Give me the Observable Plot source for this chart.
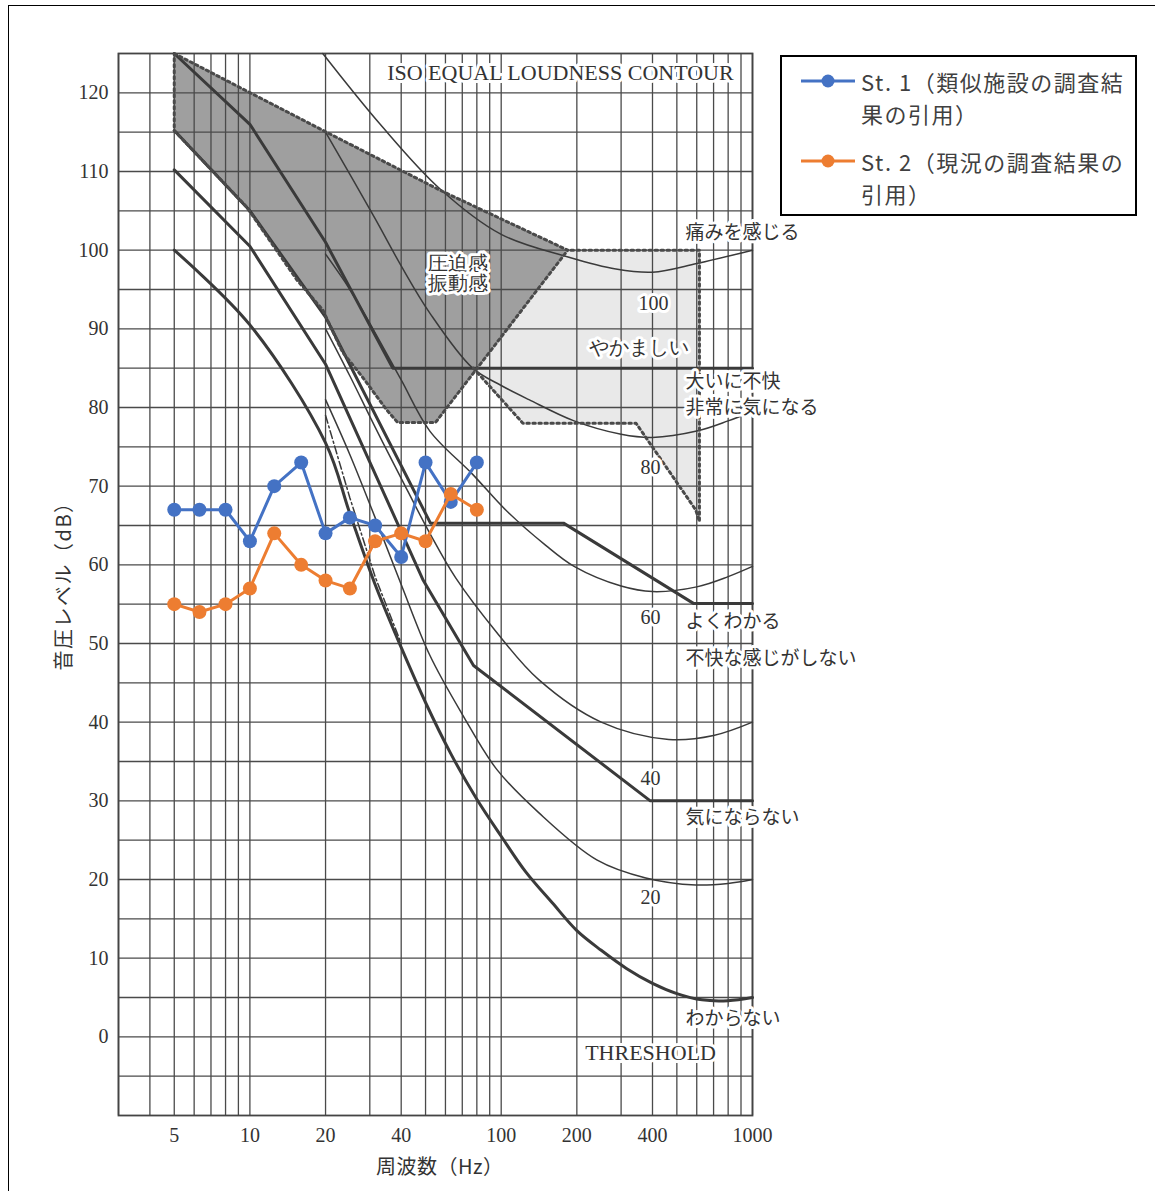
<!DOCTYPE html>
<html><head><meta charset="utf-8">
<script src="https://cdn.jsdelivr.net/npm/d3@7"></script>
<script src="https://cdn.jsdelivr.net/npm/@observablehq/plot@0.6"></script>
<style>
body{margin:0;background:#fff;}
#wrap{position:relative;width:1155px;height:1191px;overflow:hidden;background:#fff;}
#border{position:absolute;left:8px;top:5px;width:1300px;height:1300px;border:1.5px solid #000;}
#chart{position:absolute;left:0;top:0;}
#legend{position:absolute;left:780px;top:55px;width:353px;height:157px;border:2px solid #000;background:#fff;
 font-family:"Noto Sans CJK JP";font-size:22px;color:#404040;line-height:32px;}
.item{position:absolute;left:0;}
.item svg{position:absolute;left:18px;top:6px;}
.item .t{position:absolute;left:79px;top:0;white-space:nowrap;letter-spacing:1.5px;}
.axt{position:absolute;font-family:"Noto Sans CJK JP";font-size:20px;color:#333;white-space:nowrap;}
</style></head>
<body>
<div id="wrap">
 <div id="border"></div>
 <div id="chart"></div>
 <div id="legend">
  <div class="item" style="top:8px">
   <svg width="56" height="20"><line x1="1" y1="10" x2="55" y2="10" stroke="#4472C4" stroke-width="3"/><circle cx="28" cy="10" r="6.5" fill="#4472C4"/></svg>
   <div class="t">St. 1（類似施設の調査結<br>果の引用）</div>
  </div>
  <div class="item" style="top:88px">
   <svg width="56" height="20"><line x1="1" y1="10" x2="55" y2="10" stroke="#ED7D31" stroke-width="3"/><circle cx="28" cy="10" r="6.5" fill="#ED7D31"/></svg>
   <div class="t">St. 2（現況の調査結果の<br>引用）</div>
  </div>
 </div>
 <div class="axt" style="left:376px;top:1151px;letter-spacing:0.5px;">周波数（Hz）</div>
 <div class="axt" style="left:62px;top:581px;letter-spacing:1.5px;transform:translate(-50%,-50%) rotate(-90deg);">音圧レベル（dB）</div>
</div>
<script>
// measured series (1/3 octave bands)
const bands = [5, 6.3, 8, 10, 12.5, 16, 20, 25, 31.5, 40, 50, 63, 80];
const st1 = [67, 67, 67, 63, 70, 73, 64, 66, 65, 61, 73, 68, 73];
const st2 = [55, 54, 55, 57, 64, 60, 58, 57, 63, 64, 63, 69, 67];

// axes
const xTicks = [5, 10, 20, 40, 100, 200, 400, 1000];
const yTicks = [0, 10, 20, 30, 40, 50, 60, 70, 80, 90, 100, 110, 120];
const gridFreqs = [3,4,5,6,7,8,9,10,20,30,40,50,60,70,80,90,100,200,300,400,500,600,700,800,900,1000];
const gridLevels = [-5,0,5,10,15,20,25,30,35,40,45,50,55,60,65,70,75,80,85,90,95,100,105,110,115,120];

// regions [Hz, dB]
const darkRegion = [[5,125],[19.6,115.2],[57.3,107.6],[184,100],[54.8,78.1],[38.7,78.1],[35,79.7],[28,83.9],[23.4,87],[19.5,92.4],[15.4,96.2],[9.7,105.5],[5,115.2],[5,125]];
const lightRegion = [[184,100],[615,100],[615,65.5],[594,67],[344,78],[122,78],[77.5,85],[184,100]];
const lightOutline = [[77.5,85],[122,78],[344,78],[594,67],[615,65.5],[615,100],[184,100]];

// ISO equal loudness contours (thin)
const phon100 = [[19.5,125],[33,116],[57,107.8],[100,102],[186,99.1],[286,97.6],[400,97.2],[600,98.3],[1000,100]];
const phon80 = [[20,115],[31.5,104],[40,98],[52,92],[77,85],[100,82.8],[129,81],[195,78.3],[300,76.6],[400,76.2],[600,77],[800,78.3],[1000,79.5]];
const phon60 = [[20,99.5],[25,95],[31.5,89.5],[40,83.5],[52,77],[77,71.5],[104,67],[150,62.5],[195,59.8],[300,57.3],[400,56.6],[600,57.2],[800,58.5],[1000,59.8]];
const phon40 = [[20,90],[25,84],[31.5,77.5],[40,71],[52,64],[66,58.3],[96,51.4],[141,45.4],[250,40],[464,37.8],[700,38.3],[1000,40]];
const phon20 = [[20,81],[25,74],[31.5,66],[40,57.5],[52,48.5],[70,41],[96,34],[141,28.5],[240,22.5],[376,20.2],[594,19.3],[800,19.5],[1000,20]];
const dashLine = [[20,79],[25,68.5],[31.5,58.5],[40,50]];

// response lines (thick)
const threshold = [[5,100],[10,90.5],[20,75.5],[25,66.5],[31.5,57.5],[40,49.5],[50,42.5],[63,36],[80,30.2],[100,25.5],[125,21],[160,17],[200,13.5],[250,11],[315,8.7],[400,6.8],[500,5.5],[630,4.7],[800,4.6],[1000,5]];
const lineA = [[5,125],[10,116],[20,101],[37,85],[1000,85]];
const lineB = [[5,115.2],[10,105],[20,91.5],[52.3,65.3],[177,65.3],[582,55.1],[1000,55.1]];
const lineC = [[5,110.2],[10,100.5],[20,85.5],[49,58],[77.6,47.2],[392,30],[1000,30]];

// annotation texts [Hz, dB, text]
const titleLabel = [[172,122.5,"ISO EQUAL LOUDNESS CONTOUR"],[393,-2.1,"THRESHOLD"]];
const centerLabels = [[67.6,98.3,"圧迫感"],[67.6,95.8,"振動感"],
  [404,93.2,"100"],[355,87.6,"やかましい"],[393,72.4,"80"],[393,53.3,"60"],[393,32.8,"40"],[393,17.7,"20"]];
const sideLabels = [[541,102.2,"痛みを感じる"],[541,83.2,"大いに不快"],[541,79.9,"非常に気になる"],[541,52.8,"よくわかる"],
  [541,48.0,"不快な感じがしない"],[541,27.8,"気にならない"],[541,2.3,"わからない"]];

const pts = a => a.map(([f, v]) => ({f, v}));
const lab = a => a.map(([f, v, t]) => ({f, v, t}));
const s1 = bands.map((f, i) => ({f, v: st1[i]}));
const s2 = bands.map((f, i) => ({f, v: st2[i]}));
const ink = "#3a3a3a";
const serif = "Liberation Serif";
const jp = "Noto Sans CJK JP";
const isLatin = d => /^[0-9A-Z ]+$/.test(d.t);

const chart = Plot.plot({
  width: 1155, height: 1191,
  marginLeft: 118, marginRight: 403, marginTop: 53, marginBottom: 76,
  x: {type: "log", domain: [3, 1000], axis: null},
  y: {domain: [-10, 125]},
  style: {fontFamily: serif, fontSize: "20px", color: "#333", background: "transparent"},
  marks: [
    Plot.line(pts(lightRegion), {x: "f", y: "v", fill: "#e9e9e9", stroke: "none"}),
    Plot.line(pts(darkRegion), {x: "f", y: "v", fill: "#9f9f9f", stroke: "none"}),
    Plot.ruleX(gridFreqs, {stroke: "#4a4a4a", strokeWidth: 1.3}),
    Plot.ruleY(gridLevels, {stroke: "#4a4a4a", strokeWidth: 1.4}),
    Plot.frame({stroke: "#444", strokeWidth: 1.8}),
    Plot.line(pts(phon100), {x: "f", y: "v", stroke: ink, strokeWidth: 1.5, curve: "catmull-rom"}),
    Plot.line(pts(phon80), {x: "f", y: "v", stroke: ink, strokeWidth: 1.5, curve: "catmull-rom"}),
    Plot.line(pts(phon60), {x: "f", y: "v", stroke: ink, strokeWidth: 1.5, curve: "catmull-rom"}),
    Plot.line(pts(phon40), {x: "f", y: "v", stroke: ink, strokeWidth: 1.5, curve: "catmull-rom"}),
    Plot.line(pts(phon20), {x: "f", y: "v", stroke: ink, strokeWidth: 1.5, curve: "catmull-rom"}),
    Plot.line(pts(dashLine), {x: "f", y: "v", stroke: ink, strokeWidth: 1.5, strokeDasharray: "8,3,2,3"}),
    Plot.line(pts(threshold), {x: "f", y: "v", stroke: ink, strokeWidth: 3, curve: "catmull-rom"}),
    Plot.line(pts(lineA), {x: "f", y: "v", stroke: ink, strokeWidth: 3}),
    Plot.line(pts(lineB), {x: "f", y: "v", stroke: ink, strokeWidth: 3}),
    Plot.line(pts(lineC), {x: "f", y: "v", stroke: ink, strokeWidth: 3}),
    Plot.line(pts(darkRegion), {x: "f", y: "v", stroke: "#4a4a4a", strokeWidth: 3, strokeDasharray: "2.5,3.5"}),
    Plot.line(pts(lightOutline), {x: "f", y: "v", stroke: "#4a4a4a", strokeWidth: 3, strokeDasharray: "2.5,3.5"}),
    Plot.text(xTicks, {x: d => d, frameAnchor: "bottom", lineAnchor: "middle", dy: 20, text: d => String(d), fontSize: 20, fill: "#333"}),
    Plot.axisY({ticks: yTicks, tickSize: 0, tickPadding: 10, label: null, fontSize: 20}),
    Plot.text(lab(titleLabel), {x: "f", y: "v", text: "t", textAnchor: "middle",
      fontFamily: serif, fontSize: 22, letterSpacing: 2.3, fill: "#333",
      stroke: "white", strokeWidth: 6, paintOrder: "stroke"}),
    Plot.text(lab(centerLabels), {x: "f", y: "v", text: "t", textAnchor: "middle",
      fontFamily: d => isLatin(d) ? serif : jp, fontSize: 20, fill: "#333",
      stroke: "white", strokeWidth: 6, paintOrder: "stroke"}),
    Plot.text(lab(sideLabels), {x: "f", y: "v", text: "t", textAnchor: "start",
      fontFamily: jp, fontSize: 19, fill: "#333", stroke: "white", strokeWidth: 6, paintOrder: "stroke"}),
    Plot.line(s1, {x: "f", y: "v", stroke: "#4472C4", strokeWidth: 3}),
    Plot.dot(s1, {x: "f", y: "v", fill: "#4472C4", r: 7}),
    Plot.line(s2, {x: "f", y: "v", stroke: "#ED7D31", strokeWidth: 3}),
    Plot.dot(s2, {x: "f", y: "v", fill: "#ED7D31", r: 7})
  ]
});
document.getElementById("chart").appendChild(chart);
</script>
</body></html>
